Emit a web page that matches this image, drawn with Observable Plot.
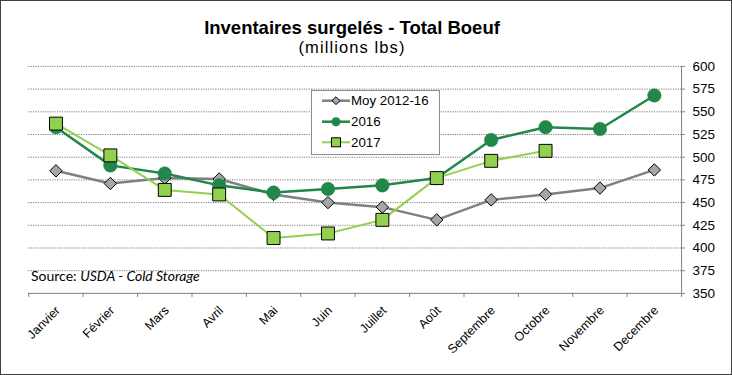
<!DOCTYPE html>
<html><head><meta charset="utf-8">
<script src="https://cdn.jsdelivr.net/npm/d3@7"></script>
<script src="https://cdn.jsdelivr.net/npm/@observablehq/plot@0.6"></script>
<style>
html,body{margin:0;padding:0;background:#fff;}
#wrap{position:relative;width:732px;height:375px;box-sizing:border-box;border:1px solid #404040;overflow:hidden;background:#fff;font-family:"Liberation Sans",Arial,sans-serif;}
#chart{position:absolute;left:-1px;top:-1px;}
#overlay{position:absolute;left:-1px;top:-1px;pointer-events:none;}
</style></head><body>
<div id="wrap"><div id="chart"></div><svg id="overlay" width="732" height="375"></svg></div>
<script>
const title = "Inventaires surgelés - Total Boeuf";
const subtitle = "(millions lbs)";
const sourceLabel = "Source: ";
const sourceText = "USDA - Cold Storage";
const months = ["Janvier","Février","Mars","Avril","Mai","Juin","Juillet","Août","Septembre","Octobre","Novembre","Decembre"];
const seriesNames = ["Moy 2012-16","2016","2017"];
const moy = [485, 471, 477, 476, 459, 450, 445, 431, 453, 459, 466, 486];
const y2016 = [533, 491, 482, 469, 461, 465, 469, 477, 519, 533, 531, 568];
const y2017 = [537, 502, 464, 459, 411, 416, 431, 477, 496, 507];
const yTicks = [350, 375, 400, 425, 450, 475, 500, 525, 550, 575, 600];

const colMoyLine = "#808080", colMoyFill = "#a6a6a6";
const col16 = "#21874a";
const col17 = "#92d050";

const rows = arr => arr.map((v, i) => ({i, month: months[i], v}));
const dMoy = rows(moy), d16 = rows(y2016), d17 = rows(y2017);
const xDomain = [-0.5, months.length - 0.5];
const bounds = d3.range(months.length + 1).map(k => k - 0.5);

const chart = Plot.plot({
  width: 732, height: 375,
  marginTop: 66, marginBottom: 81.7, marginLeft: 28.3, marginRight: 50,
  x: {domain: xDomain},
  y: {domain: [yTicks[0], yTicks[yTicks.length - 1]]},
  style: {background: "transparent", fontFamily: "'Liberation Sans', Arial, sans-serif", fontSize: "13px", color: "#000", overflow: "visible"},
  marks: [
    Plot.ruleY(yTicks.slice(1), {stroke: "#7a7a7a", strokeDasharray: "1.2,1.2", strokeWidth: 1}),
    Plot.ruleY([yTicks[0]], {stroke: "#808080", strokeWidth: 1}),
    Plot.ruleX([xDomain[1]], {stroke: "#808080", strokeWidth: 1}),
    Plot.axisY({anchor: "right", ticks: yTicks, tickSize: 3, tickPadding: 8, label: null, stroke: "#808080", fill: "#000", fontSize: 13.5}),
    Plot.axisX({ticks: bounds, tickSize: 4, tickFormat: () => "", label: null, stroke: "#808080"}),
    Plot.axisX({ticks: d3.range(months.length), tickSize: 0, tickPadding: 15, tickRotate: -45, tickFormat: i => months[i], label: null, fill: "#000", fontSize: 12.5, dx: 2}),
    Plot.line(dMoy, {x: "i", y: "v", stroke: colMoyLine, strokeWidth: 2.5}),
    Plot.dot(dMoy, {x: "i", y: "v", symbol: "diamond2", r: 5.6, fill: colMoyFill, stroke: "#000", strokeWidth: 1}),
    Plot.line(d16, {x: "i", y: "v", stroke: col16, strokeWidth: 2.5}),
    Plot.dot(d16, {x: "i", y: "v", r: 6.8, fill: col16, stroke: col16, strokeWidth: 0.5}),
    Plot.line(d17, {x: "i", y: "v", stroke: col17, strokeWidth: 2}),
    Plot.dot(d17, {x: "i", y: "v", symbol: "square", r: 7.3, fill: col17, stroke: "#000", strokeWidth: 1})
  ]
});
document.getElementById("chart").appendChild(chart);

const ov = d3.select("#overlay");
ov.append("text").attr("x", 352).attr("y", 33.8).attr("text-anchor", "middle")
  .attr("font-family", "'Liberation Sans', Arial, sans-serif").attr("font-weight", "bold").attr("font-size", 18.5).text(title);
ov.append("text").attr("x", 352).attr("y", 52.5).attr("text-anchor", "middle")
  .attr("font-family", "'Liberation Sans', Arial, sans-serif").attr("font-size", 16.5).attr("letter-spacing", 1.1).text(subtitle);
const src = ov.append("text").attr("x", 31).attr("y", 280.7).attr("font-family", "Lato, sans-serif").attr("font-size", 14).attr("fill", "#000");
src.append("tspan").text(sourceLabel);
src.append("tspan").attr("font-style", "italic").text(sourceText);

// legend
const lg = ov.append("g");
lg.append("rect").attr("x", 311.5).attr("y", 90.5).attr("width", 128).attr("height", 64).attr("fill", "#fff").attr("stroke", "#8c8c8c");
const ly = [100.7, 121.7, 142.3];
const lcol = [colMoyLine, col16, col17];
const lw = [2.5, 2.5, 2];
seriesNames.forEach((name, k) => {
  lg.append("line").attr("x1", 322).attr("x2", 350).attr("y1", ly[k]).attr("y2", ly[k]).attr("stroke", lcol[k]).attr("stroke-width", lw[k]);
  if (k === 0) lg.append("path").attr("d", d3.symbol(d3.symbolDiamond2, 40)()).attr("transform", `translate(336,${ly[k]})`).attr("fill", colMoyFill).attr("stroke", "#000");
  if (k === 1) lg.append("circle").attr("cx", 336).attr("cy", ly[k]).attr("r", 4.5).attr("fill", col16);
  if (k === 2) lg.append("rect").attr("x", 331.5).attr("y", ly[k] - 4.5).attr("width", 9).attr("height", 9).attr("fill", col17).attr("stroke", "#000");
  lg.append("text").attr("x", 351).attr("y", ly[k]).attr("dy", "0.35em").attr("font-family", "'Liberation Sans', Arial, sans-serif").attr("font-size", 13.3).text(name);
});
</script>
</body></html>
